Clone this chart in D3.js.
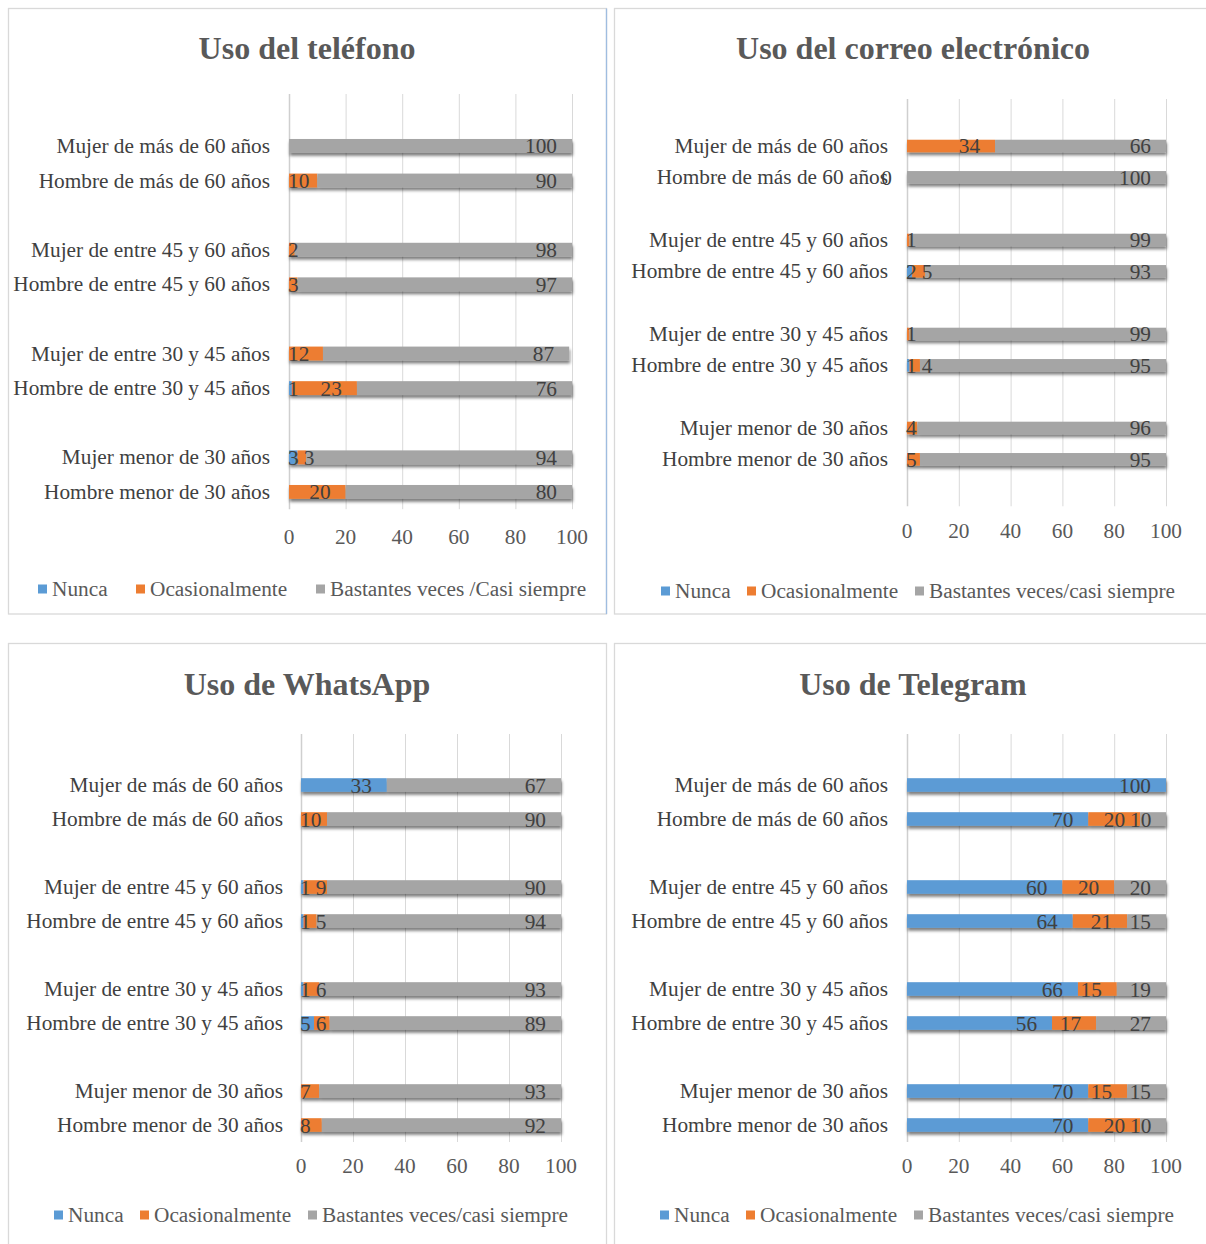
<!DOCTYPE html>
<html>
<head>
<meta charset="utf-8">
<script src="https://cdn.jsdelivr.net/npm/d3@7"></script>
<style>
  html, body { margin: 0; padding: 0; background: #fff; }
  svg { display: block; font-family: "Liberation Serif", "Times New Roman", serif; }
</style>
</head>
<body>
<svg id="chart" width="1206" height="1244"></svg>
<script>
// ---------- DATA ----------
const groups = [
  "Mujer de más de 60 años",
  "Hombre de más de 60 años",
  "Mujer de entre 45 y 60 años",
  "Hombre de entre 45 y 60 años",
  "Mujer de entre 30 y 45 años",
  "Hombre de entre 30 y 45 años",
  "Mujer menor de 30 años",
  "Hombre menor de 30 años"
];
// null = no segment / no label
const telefonoNunca = [null, null, null, null, null, 1, 3, null];
const telefonoOcasional = [null, 10, 2, 3, 12, 23, 3, 20];
const telefonoBastantes = [100, 90, 98, 97, 87, 76, 94, 80];

const correoNunca = [null, null, null, 2, null, 1, null, null];
const correoOcasional = [34, 0, 1, 5, 1, 4, 4, 5];
const correoBastantes = [66, 100, 99, 93, 99, 95, 96, 95];

const whatsappNunca = [33, null, 1, 1, 1, 5, null, null];
const whatsappOcasional = [null, 10, 9, 5, 6, 6, 7, 8];
const whatsappBastantes = [67, 90, 90, 94, 93, 89, 93, 92];

const telegramNunca = [100, 70, 60, 64, 66, 56, 70, 70];
const telegramOcasional = [null, 20, 20, 21, 15, 17, 15, 20];
const telegramBastantes = [null, 10, 20, 15, 19, 27, 15, 10];

const xTicks = [0, 20, 40, 60, 80, 100];
const seriesNames = ["Nunca", "Ocasionalmente", "Bastantes veces/casi siempre"];
const seriesColors = ["#5B9BD5", "#ED7D31", "#A5A5A5"];

const titles = ["Uso del teléfono", "Uso del correo electrónico", "Uso de WhatsApp", "Uso de Telegram"];
const legendLabels = [
  ["Nunca", "Ocasionalmente", "Bastantes veces /Casi siempre"],
  seriesNames, seriesNames, seriesNames
];

// ---------- LAYOUT ----------
const charts = [
  { title: titles[0], series: [telefonoNunca, telefonoOcasional, telefonoBastantes], legend: legendLabels[0],
    box: [8.5, 8.5, 598, 605.5], x0: 289, x1: 572, top: 94, step: 34.6, trailing: 0,
    titleY: 48, labelX: 270, tickY: 537, legendY: 589, legendX: [38, 136, 316], titleX: 307 },
  { title: titles[1], series: [correoNunca, correoOcasional, correoBastantes], legend: legendLabels[1],
    box: [614.5, 8.5, 600, 605.5], x0: 907, x1: 1166, top: 99, step: 31.33, trailing: 1,
    titleY: 48, labelX: 888, tickY: 531, legendY: 591, legendX: [661, 747, 915], titleX: 913 },
  { title: titles[2], series: [whatsappNunca, whatsappOcasional, whatsappBastantes], legend: legendLabels[2],
    box: [8.5, 643.5, 598, 620], x0: 301, x1: 561, top: 734, step: 34, trailing: 0,
    titleY: 684, labelX: 283, tickY: 1166, legendY: 1215, legendX: [54, 140, 308], titleX: 307 },
  { title: titles[3], series: [telegramNunca, telegramOcasional, telegramBastantes], legend: legendLabels[3],
    box: [614.5, 643.5, 600, 620], x0: 907, x1: 1166, top: 734, step: 34, trailing: 0,
    titleY: 684, labelX: 888, tickY: 1166, legendY: 1215, legendX: [660, 746, 914], titleX: 913 }
];

const FONT = 21.3;
const svg = d3.select("#chart");

const defs = svg.append("defs");
const f = defs.append("filter").attr("id", "shadow")
  .attr("x", "-10%").attr("y", "-60%").attr("width", "120%").attr("height", "260%");
f.append("feDropShadow").attr("dx", 0.8).attr("dy", 3).attr("stdDeviation", 1.6)
  .attr("flood-color", "#000").attr("flood-opacity", 0.5);

// slot domain with gaps between age groups
function slotDomain(trailing) {
  const d = ["gap0", groups[0], groups[1], "gap1", groups[2], groups[3], "gap2", groups[4], groups[5], "gap3", groups[6], groups[7]];
  for (let i = 0; i < trailing; i++) d.push("trail" + i);
  return d;
}

charts.forEach((c, ci) => {
  const g = svg.append("g");
  // panel border
  g.append("rect").attr("x", c.box[0]).attr("y", c.box[1]).attr("width", c.box[2]).attr("height", c.box[3])
    .attr("fill", "#fff").attr("stroke", "#d9d9d9").attr("stroke-width", 1.3);
  if (ci === 0) {
    g.append("line").attr("x1", c.box[0] + c.box[2]).attr("x2", c.box[0] + c.box[2])
      .attr("y1", c.box[1]).attr("y2", c.box[1] + c.box[3]).attr("stroke", "#9fbde0").attr("stroke-width", 1.3);
  }

  const domain = slotDomain(c.trailing);
  const y = d3.scaleBand().domain(domain)
    .range([c.top, c.top + c.step * domain.length])
    .paddingInner(0.6).paddingOuter(0.3);
  const x = d3.scaleLinear().domain([0, 100]).range([c.x0, c.x1]);
  const bottom = c.top + c.step * domain.length;

  // title
  g.append("text").attr("x", c.titleX).attr("y", c.titleY).attr("text-anchor", "middle")
    .attr("dominant-baseline", "central").attr("font-size", 32).attr("font-weight", "bold")
    .attr("fill", "#595959").text(c.title);

  // gridlines
  g.append("g").selectAll("line").data(xTicks).join("line")
    .attr("x1", d => x(d) + 0.5).attr("x2", d => x(d) + 0.5)
    .attr("y1", c.top).attr("y2", bottom)
    .attr("stroke", d => d === 0 ? "#cfcfcf" : "#d9d9d9").attr("stroke-width", d => d === 0 ? 1.5 : 1);

  // x tick labels
  g.append("g").selectAll("text").data(xTicks).join("text")
    .attr("x", d => x(d)).attr("y", c.tickY).attr("text-anchor", "middle")
    .attr("dominant-baseline", "central").attr("font-size", FONT).attr("fill", "#595959")
    .text(d => d);

  // category labels
  g.append("g").selectAll("text").data(groups).join("text")
    .attr("x", c.labelX).attr("y", d => y(d) + y.bandwidth() / 2)
    .attr("text-anchor", "end").attr("dominant-baseline", "central")
    .attr("font-size", FONT).attr("fill", "#404040").text(d => d);

  // stacked segments
  const rows = groups.map((grp, i) => {
    let acc = 0;
    const segs = [];
    c.series.forEach((s, si) => {
      const v = s[i];
      if (v === null || v === undefined) return;
      segs.push({ grp, si, v, start: acc, end: acc + v });
      acc += v;
    });
    return segs;
  });
  const allSegs = rows.flat();

  const barsG = g.append("g").attr("filter", "url(#shadow)");
  barsG.selectAll("rect").data(allSegs.filter(d => d.v > 0)).join("rect")
    .attr("x", d => x(d.start)).attr("width", d => x(d.end) - x(d.start))
    .attr("y", d => y(d.grp)).attr("height", y.bandwidth())
    .attr("fill", d => seriesColors[d.si]);

  // data labels (inside end, clamped, no overlap)
  const labG = g.append("g");
  rows.forEach(segs => {
    let prevRight = -Infinity;
    segs.forEach(d => {
      const t = labG.append("text")
        .attr("y", y(d.grp) + y.bandwidth() / 2 + 0.5)
        .attr("dominant-baseline", "central")
        .attr("font-size", FONT).attr("fill", "#404040").text(d.v);
      const w = t.node().getComputedTextLength();
      let left = x(d.end) - 15 - w;
      if (d.v > 0) {
        left = Math.max(left, c.x0 - 1);
        if (left < prevRight + 5) left = prevRight + 5;
      }
      t.attr("x", left);
      prevRight = left + w;
    });
  });

  // legend
  const lg = g.append("g");
  c.legend.forEach((name, i) => {
    lg.append("rect").attr("x", c.legendX[i]).attr("y", c.legendY - 4.5).attr("width", 9).attr("height", 9)
      .attr("fill", seriesColors[i]);
    lg.append("text").attr("x", c.legendX[i] + 14).attr("y", c.legendY).attr("dominant-baseline", "central")
      .attr("font-size", FONT).attr("fill", "#595959").text(name);
  });
});
</script>
</body>
</html>
